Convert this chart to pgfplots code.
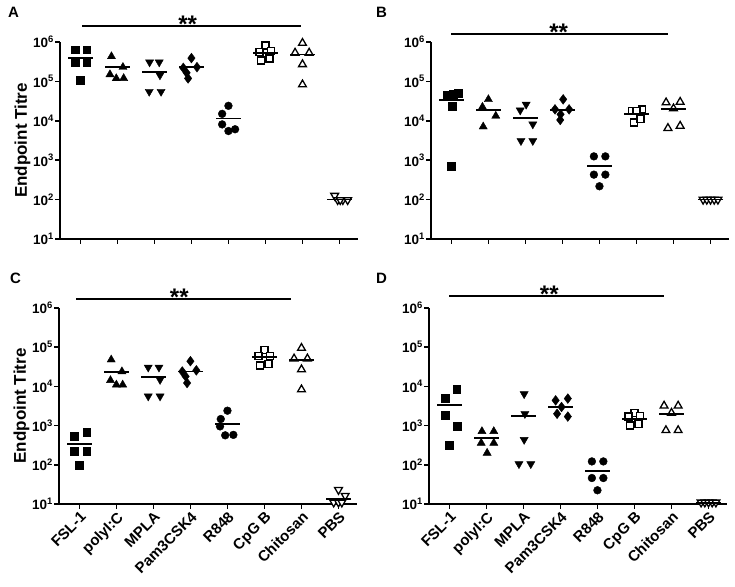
\documentclass[border=0pt]{standalone}
\usepackage{fontspec}
\setmainfont{Liberation Sans}
\usepackage{pgfplots}
\pgfplotsset{compat=1.18}

\pgfplotsset{
  every axis/.append style={
    scale only axis, width=298pt, height=197pt,
    ymin=10, ymax=1e6, yminorticks=false,
    xmin=-0.55, xmax=7.5,
    axis lines=left, axis line style={-, line width=1.8pt},
    major tick style={black, line width=1.7pt},
    tick align=outside, major tick length=5pt,
    xtick={0,...,7}, xticklabels={},
    ytick={10,100,1000,10000,100000,1000000},
    yticklabels={{10\textsuperscript{1}},{10\textsuperscript{2}},{10\textsuperscript{3}},{10\textsuperscript{4}},{10\textsuperscript{5}},{10\textsuperscript{6}}},
    yticklabel style={font=\fontsize{13.5}{15}\selectfont\bfseries, inner sep=1pt},
    clip=false,
  },
  withylab/.style={ylabel={Endpoint Titre}, ylabel style={font=\fontsize{17}{19}\selectfont\bfseries, yshift=-2pt}},
  withxlab/.style={xticklabels={FSL-1,polyI:C,MPLA,Pam3CSK4,R848,CpG B,Chitosan,PBS},
    xticklabel style={font=\fontsize{15}{17}\selectfont\bfseries, rotate=45, anchor=north east, inner sep=1pt}},
  mkfsl/.style={black, only marks, mark=square*, mark size=3.9pt, mark options={fill=black}},
  mkpic/.style={black, only marks, mark=triangle*, mark size=4.7pt, mark options={fill=black}},
  mkmpla/.style={black, only marks, mark=triangle*, mark size=4.7pt, mark options={fill=black, rotate=180}},
  mkpam/.style={black, only marks, mark=diamond*, mark size=4.9pt, mark options={fill=black}},
  mkrr/.style={black, only marks, mark=*, mark size=3.9pt, mark options={fill=black}},
  mkcpg/.style={black, only marks, mark=square*, mark size=3.5pt, mark options={fill=white, line width=1.3pt}},
  mkchi/.style={black, only marks, mark=triangle*, mark size=4.5pt, mark options={fill=white, line width=1.3pt}},
  mkpbs/.style={black, only marks, mark=triangle*, mark size=4.5pt, mark options={fill=white, line width=1.3pt, rotate=180}},
  meanline/.style={black, only marks, mark=-, mark size=12.5pt, mark options={line width=1.8pt}},
  sigline/.style={black, line width=1.7pt, no marks},
}

\begin{document}
\begin{tikzpicture}
\useasboundingbox (0pt,0pt) rectangle (735pt,586pt);

% ---- A ----
\begin{semilogyaxis}[withylab, at={(60pt,347pt)}]
\addplot[mkfsl] coordinates {(-0.14,6.4e5) (0.17,6.4e5) (-0.14,3.1e5) (0.17,3.1e5) (0,1.08e5)};
\addplot[mkpic] coordinates {(0.84,4.3e5) (1.15,2.3e5) (0.80,1.5e5) (0.97,1.19e5) (1.17,1.2e5)};
\addplot[mkmpla] coordinates {(1.87,3.07e5) (2.13,3.07e5) (2.15,1.44e5) (1.86,5.5e4) (2.18,5.5e4)};
\addplot[mkpam] coordinates {(3,3.9e5) (2.78,2.2e5) (3.15,2.3e5) (2.87,1.65e5) (2.91,1.19e5)};
\addplot[mkrr] coordinates {(4,2.4e4) (3.83,1.5e4) (3.83,8.1e3) (4,5.5e3) (4.18,6.1e3)};
\addplot[mkcpg] coordinates {(5,8.1e5) (4.84,5.6e5) (5.15,6.0e5) (4.88,3.4e5) (5.11,3.8e5)};
\addplot[mkchi] coordinates {(6,9.4e5) (5.8,5.3e5) (6.18,5.3e5) (6,2.7e5) (6,8.3e4)};
\addplot[mkpbs] coordinates {(6.87,126) (6.95,98) (7.09,98) (7.22,98) (7.02,98)};
\addplot[meanline] coordinates {(0,3.95e5) (1,2.3e5) (2,1.7e5) (3,2.3e5) (4,1.14e4) (5,5.3e5) (6,4.8e5) (7,100)};
\addplot[sigline] coordinates {(0.05,2.5e6) (5.95,2.5e6)};
\node[font=\fontsize{24}{24}\selectfont\bfseries, anchor=south, inner sep=0pt, yshift=-6.5pt] at (axis cs:2.9,2.5e6) {**};
\end{semilogyaxis}

% ---- B ----
\begin{semilogyaxis}[at={(431pt,347pt)}]
\addplot[mkfsl] coordinates {(-0.12,4.4e4) (0.18,5.0e4) (0.05,4.7e4) (0.02,2.4e4) (0,700)};
\addplot[mkpic] coordinates {(1,3.5e4) (0.84,2.24e4) (1.2,1.33e4) (0.86,7.1e3)};
\addplot[mkmpla] coordinates {(2.02,2.6e4) (1.86,1.85e4) (2.2,8.2e3) (1.88,3.1e3) (2.2,3.1e3)};
\addplot[mkpam] coordinates {(3.02,3.5e4) (2.8,1.95e4) (3.18,1.95e4) (2.95,1.46e4) (2.94,1.05e4)};
\addplot[mkrr] coordinates {(3.85,1250) (4.16,1250) (3.85,430) (4.16,430) (4,218)};
\addplot[mkcpg] coordinates {(4.87,1.77e4) (5.15,1.95e4) (5,1.77e4) (4.93,9e3) (5.11,1.1e4)};
\addplot[mkchi] coordinates {(5.8,2.9e4) (6.18,3.0e4) (6,2.04e4) (5.85,6.5e3) (6.18,7.4e3)};
\addplot[mkpbs] coordinates {(6.8,100) (6.9,100) (7,100) (7.1,100) (7.2,100)};
\addplot[meanline] coordinates {(0,3.37e4) (1,1.88e4) (2,1.16e4) (3,1.88e4) (4,697) (5,1.46e4) (6,1.95e4) (7,100)};
\addplot[sigline] coordinates {(0,1.6e6) (5.86,1.6e6)};
\node[font=\fontsize{24}{24}\selectfont\bfseries, anchor=south, inner sep=0pt, yshift=-6.5pt] at (axis cs:2.9,1.6e6) {**};
\end{semilogyaxis}

% ---- C ----
\begin{semilogyaxis}[withylab, withxlab, at={(59pt,82pt)}, height=196pt]
\addplot[mkfsl] coordinates {(0.2,687) (-0.13,532) (-0.13,221) (0.2,221) (0,100)};
\addplot[mkpic] coordinates {(0.86,4.8e4) (1.15,2.4e4) (0.84,1.43e4) (1,1.1e4) (1.17,1.1e4)};
\addplot[mkmpla] coordinates {(1.86,3.06e4) (2.15,3.06e4) (2.18,1.48e4) (1.86,5.6e3) (2.18,5.6e3)};
\addplot[mkpam] coordinates {(3,4.4e4) (2.78,2.4e4) (3.16,2.57e4) (2.87,1.8e4) (2.91,1.22e4)};
\addplot[mkrr] coordinates {(4,2.4e3) (3.82,1.47e3) (3.8,955) (3.94,565) (4.16,580)};
\addplot[mkcpg] coordinates {(5,8.6e4) (4.84,5.85e4) (5.15,6.0e4) (4.88,3.4e4) (5.11,3.8e4)};
\addplot[mkchi] coordinates {(6,9.5e4) (5.8,5.1e4) (6.16,5.1e4) (6,2.7e4) (6,8.3e3)};
\addplot[mkpbs] coordinates {(7,23) (7.18,16.3) (6.87,11) (7,11) (7.09,11)};
\addplot[meanline] coordinates {(0,346) (1,2.33e4) (2,1.7e4) (3,2.4e4) (4,1.1e3) (5,5.5e4) (6,4.8e4) (7,13.4)};
\addplot[sigline] coordinates {(-0.08,1.7e6) (5.71,1.7e6)};
\node[font=\fontsize{24}{24}\selectfont\bfseries, anchor=south, inner sep=0pt, yshift=-6.5pt] at (axis cs:2.7,1.7e6) {**};
\end{semilogyaxis}

% ---- D ----
\begin{semilogyaxis}[withxlab, at={(429pt,82pt)}, height=196pt]
\addplot[mkfsl] coordinates {(0.2,8.6e3) (-0.11,4.9e3) (-0.11,1.86e3) (0.22,957) (0,314)};
\addplot[mkpic] coordinates {(0.88,714) (1.2,714) (0.86,360) (1.2,360) (1.02,200)};
\addplot[mkmpla] coordinates {(2.02,6.4e3) (2.04,2e3) (2.02,437) (1.88,105) (2.2,105)};
\addplot[mkpam] coordinates {(2.87,4.4e3) (3.2,4.9e3) (3.03,2.98e3) (2.91,2e3) (3.2,1.7e3)};
\addplot[mkrr] coordinates {(3.85,122) (4.16,122) (3.85,46) (4.16,46) (4,22.4)};
\addplot[mkcpg] coordinates {(5,2.1e3) (4.84,1.7e3) (5.15,1.75e3) (4.88,1.0e3) (5.11,1.1e3)};
\addplot[mkchi] coordinates {(5.8,3.2e3) (6.18,3.2e3) (6,2.1e3) (5.85,757) (6.18,757)};
\addplot[mkpbs] coordinates {(6.8,11) (6.9,11) (7,11) (7.1,11) (7.2,11)};
\addplot[meanline] coordinates {(0,3.29e3) (1,483) (2,1.72e3) (3,2.98e3) (4,68) (5,1.47e3) (6,1.98e3) (7,10.5)};
\addplot[sigline] coordinates {(0,2e6) (5.8,2e6)};
\node[font=\fontsize{24}{24}\selectfont\bfseries, anchor=south, inner sep=0pt, yshift=-6.5pt] at (axis cs:2.7,2e6) {**};
\end{semilogyaxis}

\node[font=\fontsize{15}{15}\selectfont\bfseries, anchor=north west, inner sep=0pt] at (8pt,579pt) {A};
\node[font=\fontsize{15}{15}\selectfont\bfseries, anchor=north west, inner sep=0pt] at (376pt,579pt) {B};
\node[font=\fontsize{15}{15}\selectfont\bfseries, anchor=north west, inner sep=0pt] at (10pt,313pt) {C};
\node[font=\fontsize{15}{15}\selectfont\bfseries, anchor=north west, inner sep=0pt] at (376pt,313pt) {D};
\end{tikzpicture}
\end{document}
